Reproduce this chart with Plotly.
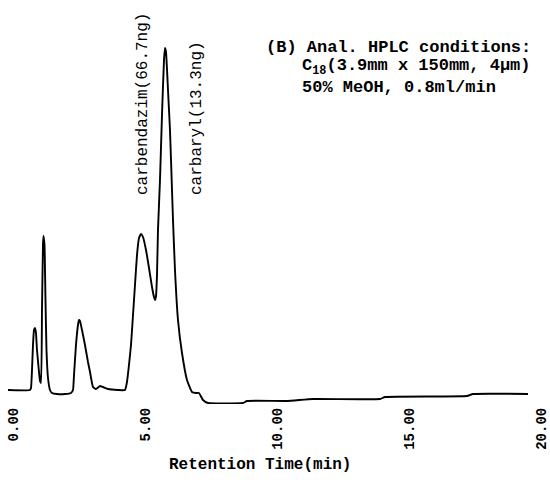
import plotly.graph_objects as go

# Retention time (min) and detector signal (arbitrary units, baseline = 0)
time_min = [-0.21, 0.62, 0.663, 0.701, 0.739, 0.777, 0.814, 0.852, 0.890, 0.966, 1.004, 1.042,
            1.080, 1.117, 1.136, 1.174, 1.212, 1.250, 1.307, 1.383, 1.458, 1.648, 1.951, 2.178,
            2.254, 2.292, 2.367, 2.443, 2.481, 2.519, 2.595, 2.708, 2.822, 2.898, 3.011, 3.125,
            3.277, 3.390, 3.580, 3.958, 4.223, 4.299, 4.375, 4.451, 4.527, 4.602, 4.678, 4.754,
            4.830, 4.905, 5.019, 5.133, 5.246, 5.322, 5.360, 5.398, 5.436, 5.473, 5.549, 5.625,
            5.701, 5.739, 5.777, 5.852, 5.928, 6.004, 6.042, 6.117, 6.231, 6.383, 6.572, 6.761,
            6.913, 7.027, 7.178, 7.367, 8.693, 8.845, 10.360, 11.345, 13.883, 14.072, 17.178,
            17.405, 19.489]
signal = [0, 0, 2, 20, 45, 60, 62, 57, 40, 18, 9, 7,
          80, 145, 154, 145, 90, 40, 12, 0, -3, -4, -4, -3,
          0, 15, 45, 65, 70, 69, 60, 45, 28, 18, 3, 1,
          4, 3, 1, 0, 0, 8, 25, 45, 75, 105, 135, 152,
          156, 153, 140, 122, 103, 93, 90, 94, 115, 160, 210, 275,
          330, 342, 338, 300, 260, 200, 170, 120, 70, 37, 10, -2,
          -3, -3, -10, -13, -13, -11, -11, -9, -9, -7, -6,
          -4, -4]

tick_vals = [0, 5, 10, 15, 20]
tick_text = ["0.00", "5.00", "10.00", "15.00", "20.00"]

peak_labels = ["carbendazim(66.7ng)", "carbaryl(13.3ng)"]
conditions = ["(B) Anal. HPLC conditions:",
              "C<sub>18</sub>(3.9mm x 150mm, 4\u03bcm)",
              "50% MeOH, 0.8ml/min"]
x_title = "Retention Time(min)"

W, H = 550, 480
ML, MR, MT, MB = 8, 0, 8, 76
PW, PH = W - ML - MR, H - MT - MB


def px(x):
    return (x - ML) / PW


def py(y):
    return 1 - (y - MT) / PH


FONT = "Liberation Mono"

fig = go.Figure()
fig.add_trace(go.Scatter(x=time_min, y=signal, mode="lines",
                         line=dict(color="black", width=1.9, shape="spline", smoothing=0.4),
                         hoverinfo="skip", showlegend=False))

ann = []
ann.append(dict(x=px(143), y=py(197), xref="paper", yref="paper", text=peak_labels[0],
                textangle=-90, showarrow=False, xanchor="center", yanchor="bottom",
                font=dict(family=FONT, size=16, color="black")))
ann.append(dict(x=px(197), y=py(197), xref="paper", yref="paper", text=peak_labels[1],
                textangle=-90, showarrow=False, xanchor="center", yanchor="bottom",
                font=dict(family=FONT, size=16, color="black")))
for txt, xx, yy in zip(conditions, [264, 300, 300], [48, 67, 88]):
    ann.append(dict(x=px(xx), y=py(yy), xref="paper", yref="paper", text=txt,
                    showarrow=False, xanchor="left", yanchor="middle",
                    font=dict(family=FONT, size=17, color="black", weight="bold")))
ann.append(dict(x=px(260), y=py(465), xref="paper", yref="paper", text=x_title,
                showarrow=False, xanchor="center", yanchor="middle",
                font=dict(family=FONT, size=16, color="black", weight="bold")))

fig.update_layout(
    width=W, height=H,
    margin=dict(l=ML, r=MR, t=MT, b=MB, autoexpand=False),
    paper_bgcolor="white", plot_bgcolor="white",
    annotations=ann,
    xaxis=dict(range=[-0.208, 20.322], tickvals=tick_vals, ticktext=tick_text, tickangle=-90,
               showgrid=False, zeroline=False, showline=False, ticks="",
               automargin=False, ticklabeloverflow="allow",
               tickfont=dict(family=FONT, size=14, color="black", weight="bold")),
    yaxis=dict(range=[-14, 382], visible=False, automargin=False),
)

fig.write_html("out.html", config={"displayModeBar": False},
               post_script="document.body.style.margin='0';document.body.style.overflow='hidden';")
